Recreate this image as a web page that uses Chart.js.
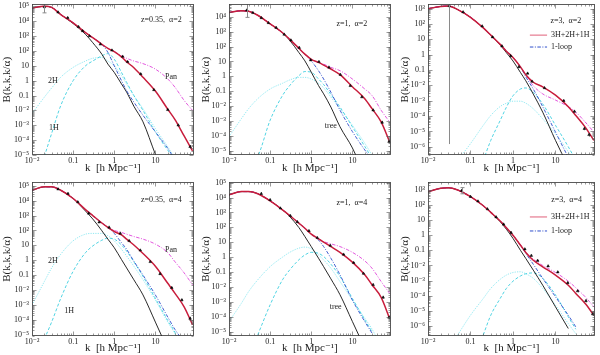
<!DOCTYPE html>
<html><head><meta charset="utf-8">
<script src="https://cdn.jsdelivr.net/npm/chart.js@4/dist/chart.umd.min.js"></script>
<style>
html,body{margin:0;padding:0;background:#fff;width:600px;height:355px;overflow:hidden;position:relative}
canvas{position:absolute}
</style></head><body>
<canvas id="c1"></canvas><canvas id="c2"></canvas><canvas id="c3"></canvas>
<canvas id="c4"></canvas><canvas id="c5"></canvas><canvas id="c6"></canvas>
<script>
// ---------- shared grid & tick labels ----------
const K = [0.01,0.02,0.03,0.05,0.1,0.2,0.3,0.5,0.7,1,1.5,2,3,5,10,20,30,50,80];
const xTickValues = [0.01,0.1,1,10];
const xTickLabels = ['10⁻²','0.1','1','10'];
const yTickValues = [1e-6,1e-5,1e-4,1e-3,1e-2,0.1,1,10,100,1e3,1e4,1e5];
const yTickLabels = ['10⁻⁶','10⁻⁵','10⁻⁴','10⁻³','10⁻²','0.1','1','10','10²','10³','10⁴','10⁵'];

// ---------- panel 1: z=0.35, alpha=2 ----------
const p1Total = [7.8e4,1.0e5,8.5e4,2.8e4,7.8e3,1.7e3,780,280,150,91,40,18.6,7.4,1.7,0.2,0.012,2.4e-3,1.9e-4,1.9e-5];
const p1Pan   = [7.8e4,1.0e5,8.5e4,2.8e4,7.8e3,1.7e3,780,280,150,91,47,32,21,14,6,1.3,0.36,0.047,0.01];
const p1Loop  = [7.8e4,1.0e5,8.5e4,2.8e4,7.8e3,1.7e3,780,280,80,10,1,0.21,0.036,4.7e-3,3.6e-4,2.8e-5,4.7e-6,5e-7,null];
const p1Tree  = [7.8e4,1.0e5,8.5e4,2.8e4,7.0e3,1.3e3,360,60,13,3.6,0.6,0.17,0.019,1.7e-3,1.1e-5,1e-7,null,null,null];
const p1H2    = [6e-3,0.078,0.32,1.7,7.8,21,32,36,21,10,2.2,0.6,0.1,0.013,6e-4,3.6e-5,6e-6,5e-7,null];
const p1H1    = [null,8e-6,2.8e-4,0.021,1,10,21,47,66,28,3.6,0.78,0.1,0.01,3.6e-4,2.1e-5,4.7e-6,5e-7,null];
const p1PtK   = [0.02,0.043,0.074,0.135,0.17,0.25,0.46,0.88,1.6,2.1,4.4,9.2,20,36,70];
const p1PtB   = [9.1e4,4.0e4,1.7e4,4.2e3,2.2e3,1.0e3,280,110,42,18.6,2.8,0.24,0.011,1e-3,3.6e-5];
const p1PtErr = [2.5,1.15,1.12,1.1,1.1,1.1,1.1,1.1,1.1,1.1,1.1,1.12,1.15,1.2,1.3];

// ---------- panel 2: z=1, alpha=2 ----------
const p2Total = [2.0e4,2.6e4,2.4e4,1.3e4,3.4e3,860,310,78,31,14,8.6,5.7,3.1,1.3,0.2,0.031,6.6e-3,8.5e-4,4e-5];
const p2Pan   = [2.0e4,2.6e4,2.4e4,1.3e4,3.4e3,860,310,78,31,14,8.6,6.6,4,2.4,0.66,0.14,0.051,5.2e-3,8.5e-4];
const p2Loop  = [2.0e4,2.6e4,2.4e4,1.3e4,3.4e3,860,310,78,31,11,2.4,0.66,0.085,5.2e-3,1.9e-4,1.1e-5,2.5e-6,null,null];
const p2Tree  = [2.0e4,2.6e4,2.4e4,1.3e4,3.4e3,860,265,40,11,1.9,0.24,0.066,8.5e-3,4e-4,1.5e-5,2e-7,null,null,null];
const p2H2    = [8.5e-5,1.4e-3,6.6e-3,0.031,0.14,0.34,0.57,0.85,0.85,0.66,0.34,0.17,0.04,6.6e-3,5.1e-4,3.1e-5,5e-6,null,null];
const p2H1    = [null,null,1e-6,4e-6,1.1e-3,0.051,0.24,1.1,2.1,1.9,0.66,0.28,0.06,8.5e-3,4e-4,1.9e-5,3e-6,null,null];
const p2PtK   = [0.027,0.038,0.061,0.091,0.14,0.22,0.32,0.51,0.97,1.54,2.7,5.1,8.9,17,32,53,78];
const p2PtB   = [2.8e4,1.9e4,8.6e3,4e3,1.9e3,660,270,86,12.3,9.5,4,1.3,0.23,0.04,5.2e-3,7.8e-4,4e-5];
const p2PtErr = [3,1.15,1.12,1.1,1.1,1.1,1.1,1.1,1.1,1.1,1.1,1.1,1.12,1.15,1.2,1.25,1.3];

// ---------- panel 3: z=3, alpha=2 ----------
const p3Total = [1000,1400,1500,870,275,56,19,4.7,1.7,0.65,0.16,0.049,0.016,8.1e-3,2.3e-3,4.1e-4,1.1e-4,1.9e-5,2.6e-6];
const p3Pan   = [1000,1400,1500,870,275,56,19,4.7,1.7,0.65,0.16,0.049,9.5e-3,2.8e-3,1.1e-3,4.1e-4,1.8e-4,4.1e-5,9e-6];
const p3Loop  = [1000,1400,1500,870,275,56,19,4.7,1.7,0.65,0.16,0.036,5.8e-3,4.1e-4,9e-6,2e-7,null,null,null];
const p3Tree  = [1000,1400,1500,870,275,56,19,4.3,1.35,0.39,0.069,0.02,2.7e-3,1.8e-4,2.6e-6,5e-8,null,null,null];
const p3H2    = [null,null,null,1.3e-7,1.6e-6,2.5e-5,1.1e-4,4.2e-4,6.9e-4,9.3e-4,9.3e-4,6.9e-4,3e-4,6.6e-5,7e-6,4.7e-7,8e-8,null,null];
const p3H1    = [null,null,null,null,null,1.3e-7,2.6e-6,5.2e-5,3.8e-4,2.1e-3,5.8e-3,6.8e-3,3.5e-3,6.2e-4,2.5e-5,1e-6,1.3e-7,null,null];
const p3PtK   = [0.0316,0.067,0.188,0.33,0.55,0.88,1.38,2.2,2.8,5.5,15.6,27.9,47.8,61.5];
const p3PtB   = [1500,600,72,14,3.6,0.83,0.16,0.06,0.018,6.8e-3,1e-3,2e-4,1.5e-5,6e-6];
const p3PtErr = [1e9,1.15,1.1,1.1,1.1,1.1,1.1,1.1,1.12,1.12,1.15,1.2,1.25,1.3];

// ---------- panel 4: z=0.35, alpha=4 ----------
const p4Total = [5e4,8.5e4,8.5e4,5e4,1.4e4,2.5e3,1e3,316,160,85,50,26,10.5,2.8,0.39,0.028,5.9e-3,7.3e-4,4.6e-5];
const p4Pan   = [5e4,8.5e4,8.5e4,5e4,1.4e4,2.5e3,1e3,316,160,100,73,56,39,26,12,3.2,0.78,0.14,0.022];
const p4Loop  = [5e4,8.5e4,8.5e4,5e4,1.4e4,2.5e3,1e3,316,160,63,15,5.4,0.85,0.1,4.6e-3,1.5e-4,2.2e-5,3e-6,null];
const p4Tree  = [5e4,8.5e4,8.5e4,5e4,1.4e4,2e3,590,95,26,6.9,1.1,0.3,0.048,4.6e-3,6.9e-5,1e-6,null,null,null];
const p4H2    = [9.5e-4,0.037,0.3,2.5,20,56,63,63,44,20,5.4,1.9,0.39,0.048,2.1e-3,6.9e-5,1.1e-5,5e-7,null];
const p4H1    = [null,5e-6,6.9e-5,2.7e-3,0.18,3.2,9,22,30,26,10.5,4.1,0.78,0.081,2.7e-3,8.9e-5,1.4e-5,5e-7,null];
const p4PtK   = [0.043,0.075,0.13,0.24,0.43,0.75,1.4,2.3,4.3,7.5,13,25,44,70];
const p4PtB   = [5.9e4,3e4,8.1e3,1.4e3,355,160,63,20,4.6,0.78,0.12,0.014,2.1e-3,1.2e-4];
const p4PtErr = [1.12,1.1,1.1,1.1,1.1,1.1,1.1,1.1,1.1,1.1,1.12,1.15,1.2,1.3];

// ---------- panel 5: z=1, alpha=4 ----------
const p5Total = [1.5e4,2.5e4,2.5e4,1.8e4,6e3,1.5e3,620,190,87,35,17,10,5.1,2.1,0.46,0.065,0.014,2e-3,8e-5];
const p5Pan   = [1.5e4,2.5e4,2.5e4,1.8e4,6e3,1.5e3,620,190,87,35,17,11,7.8,5.1,2.1,0.56,0.18,0.023,3.8e-3];
const p5Loop  = [1.5e4,2.5e4,2.5e4,1.8e4,6e3,1.5e3,620,190,87,35,14,5.1,0.85,0.065,1.3e-3,4.8e-5,8e-6,null,null];
const p5Tree  = [1.5e4,2.5e4,2.5e4,1.8e4,6e3,1.5e3,525,97,24,5.1,0.85,0.23,0.035,3e-3,4.8e-5,8e-7,null,null,null];
const p5H2    = [4.8e-5,8e-4,4.9e-3,0.03,0.23,1,2.1,4,4.7,3.6,1.4,0.66,0.18,0.023,1.3e-3,8e-5,1.5e-5,1e-6,null];
const p5H1    = [null,null,null,6e-6,6.3e-4,0.03,0.14,0.66,1.4,2.1,1.8,1.1,0.34,0.05,1.7e-3,6.2e-5,1e-5,null,null];
const p5PtK   = [0.061,0.1,0.178,0.31,0.46,0.88,1.4,2.9,6.1,10.7,18.6,32,56,78];
const p5PtB   = [1.8e4,6.9e3,1.9e3,600,230,58,20,6,1.5,0.42,0.08,0.014,2e-3,9e-5];
const p5PtErr = [1.2,1.1,1.1,1.1,1.1,1.1,1.1,1.1,1.1,1.1,1.12,1.15,1.2,1.3];

// ---------- panel 6: z=3, alpha=4 ----------
const p6Total = [776,1300,1400,1000,360,91,33,8.8,3.2,1,0.22,0.073,0.022,8.1e-3,2.3e-3,4.9e-4,1.4e-4,3e-5,5e-6];
const p6Pan   = [776,1300,1400,1000,360,91,33,8.8,3.2,1,0.22,0.073,0.026,0.01,3.4e-3,9e-4,3.3e-4,8.3e-5,1.8e-5];
const p6Loop  = [776,1300,1400,1000,360,91,33,8.8,3.2,1,0.22,0.063,0.012,1.4e-3,8.3e-5,5e-6,8.5e-7,null,null];
const p6Tree  = [776,1300,1400,1000,360,91,33,7.9,2.5,0.62,0.1,0.029,4.9e-3,4.9e-4,1.8e-5,6.6e-7,null,null,null];
const p6H2    = [null,null,null,2.5e-7,5e-6,6.5e-5,3e-4,1.2e-3,2.3e-3,3.4e-3,3.8e-3,2.8e-3,1.4e-3,3e-4,2.3e-5,1.4e-6,3e-7,null,null];
const p6H1    = [null,null,null,null,null,2.5e-7,5e-6,6.5e-5,3e-4,9e-4,2e-3,2.8e-3,3.2e-3,1.4e-3,1.1e-4,3.9e-6,5.9e-7,null,null];
const p6PtK   = [0.062,0.1,0.15,0.25,0.4,0.6,0.9,1.9,2.7,3.8,6.7,11.3,19.4,33,52,75];
const p6PtB   = [900,360,180,55,16,5.3,1.5,0.12,0.045,0.021,9e-3,3.6e-3,7e-4,2e-4,4.5e-5,6e-6];
const p6PtErr = [1.6,1.1,1.1,1.1,1.1,1.1,1.1,1.1,1.1,1.1,1.12,1.12,1.15,1.2,1.25,1.3];

// ---------- styles ----------
const FONT = "'Liberation Serif','DejaVu Serif','Times New Roman',serif";
Chart.defaults.font.family = FONT;
Chart.defaults.color = '#222';
const STYLE = {
  total:{color:'#c81d3c', width:1.5, dash:[]},
  pan:  {color:'#e045da', width:0.9, dash:[3.5,1.5,1,1.5]},
  loop: {color:'#2f4fcc', width:0.9, dash:[3.5,1.5,1,1.5]},
  tree: {color:'#111111', width:0.9, dash:[]},
  h1:   {color:'#3ccfe0', width:0.9, dash:[3,2]},
  h2:   {color:'#86e6f0', width:0.9, dash:[1.2,1.2]}
};

const PANELS = [
  {id:'c1', left:0,   top:0,   w:198, h:175, yw:32, ytp:1, pt:3, pr:2, xh:20, ymin:1e-5,  ymax:1.35e5,
   s:{total:p1Total,pan:p1Pan,loop:p1Loop,tree:p1Tree,h2:p1H2,h1:p1H1}, pk:p1PtK, pb:p1PtB, pe:p1PtErr,
   notes:[{t:'z=0.35,  α=2',fx:0.80,fy:0.10},{t:'Pan',fx:0.86,fy:0.48},{t:'2H',fx:0.13,fy:0.51},{t:'1H',fx:0.135,fy:0.82}]},
  {id:'c2', left:196, top:0,   w:199, h:175, yw:33, ytp:4, pt:3, pr:2, xh:20, ymin:5e-6,  ymax:7e4,
   s:{total:p2Total,pan:p2Pan,loop:p2Loop,tree:p2Tree,h2:p2H2,h1:p2H1}, pk:p2PtK, pb:p2PtB, pe:p2PtErr,
   notes:[{t:'z=1,  α=2',fx:0.76,fy:0.13},{t:'tree',fx:0.63,fy:0.81}]},
  {id:'c3', left:395, top:0,   w:205, h:175, yw:33, ytp:4, pt:3, pr:5, xh:20, ymin:2.9e-7, ymax:1.9e3,
   s:{total:p3Total,pan:p3Pan,loop:p3Loop,tree:p3Tree,h2:p3H2,h1:p3H1}, pk:p3PtK, pb:p3PtB, pe:p3PtErr,
   notes:[{t:'z=3,  α=2',fx:0.826,fy:0.11}], legend:{fy1:0.204, fy2:0.283}},
  {id:'c4', left:0,   top:177, w:198, h:178, yw:32, ytp:1, pt:5, pr:2, xh:19, ymin:8e-6,  ymax:1.8e5,
   s:{total:p4Total,pan:p4Pan,loop:p4Loop,tree:p4Tree,h2:p4H2,h1:p4H1}, pk:p4PtK, pb:p4PtB, pe:p4PtErr,
   notes:[{t:'z=0.35,  α=4',fx:0.80,fy:0.117},{t:'Pan',fx:0.86,fy:0.44},{t:'2H',fx:0.13,fy:0.51},{t:'1H',fx:0.23,fy:0.84}]},
  {id:'c5', left:196, top:177, w:199, h:178, yw:33, ytp:4, pt:5, pr:2, xh:19, ymin:5.1e-6, ymax:1.1e5,
   s:{total:p5Total,pan:p5Pan,loop:p5Loop,tree:p5Tree,h2:p5H2,h1:p5H1}, pk:p5PtK, pb:p5PtB, pe:p5PtErr,
   notes:[{t:'z=1,  α=4',fx:0.76,fy:0.136},{t:'tree',fx:0.66,fy:0.81}]},
  {id:'c6', left:395, top:177, w:205, h:178, yw:33, ytp:4, pt:5, pr:5, xh:19, ymin:2.1e-7, ymax:3.4e3,
   s:{total:p6Total,pan:p6Pan,loop:p6Loop,tree:p6Tree,h2:p6H2,h1:p6H1}, pk:p6PtK, pb:p6PtB, pe:p6PtErr,
   notes:[{t:'z=3,  α=4',fx:0.83,fy:0.117}], legend:{fy1:0.227, fy2:0.318}}
];

function sameVal(a,b){ return Math.abs(Math.log10(a)-Math.log10(b)) < 1e-6; }

function panelPlugin(P){
  return {
    id:'panelDeco_'+P.id,
    afterDatasetsDraw(chart){
      const ctx = chart.ctx, a = chart.chartArea, xs = chart.scales.x, ys = chart.scales.y;
      // error bars
      ctx.save();
      ctx.beginPath(); ctx.rect(a.left, a.top, a.right-a.left, a.bottom-a.top); ctx.clip();
      chart.data.datasets.forEach(ds=>{
        if(!ds.errFactor) return;
        ds.data.forEach((d,j)=>{
          const f = ds.errFactor[j];
          const px = Math.round(xs.getPixelForValue(d.x))+0.5;
          const y1 = ys.getPixelForValue(d.y/f), y2 = ys.getPixelForValue(d.y*f);
          ctx.strokeStyle = f>1.5 ? '#8a8a8a' : '#222';
          ctx.lineWidth = f>1.5 ? 1 : 0.7;
          ctx.beginPath(); ctx.moveTo(px,y1); ctx.lineTo(px,y2);
          if(f>1.5 && f<100){ ctx.moveTo(px-2,y1); ctx.lineTo(px+2,y1); ctx.moveTo(px-2,y2); ctx.lineTo(px+2,y2); }
          ctx.stroke();
        });
      });
      ctx.restore();
      // frame and inward ticks
      ctx.save();
      ctx.strokeStyle = '#333'; ctx.lineWidth = 0.8;
      const L=Math.round(a.left)+0.5, R=Math.round(a.right)-0.5, T=Math.round(a.top)+0.5, B=Math.round(a.bottom)-0.5;
      ctx.strokeRect(L,T,R-L,B-T);
      ctx.strokeStyle = '#555'; ctx.lineWidth = 0.6;
      ctx.beginPath();
      for(let e=-3;e<=2;e++) for(let m=1;m<=9;m++){
        const v=m*Math.pow(10,e); if(v<xs.min||v>xs.max) continue;
        const px=Math.round(xs.getPixelForValue(v))+0.5, len=(m===1)?4:2;
        ctx.moveTo(px,B); ctx.lineTo(px,B-len); ctx.moveTo(px,T); ctx.lineTo(px,T+len);
      }
      for(let e=-8;e<=6;e++) for(let m=1;m<=9;m++){
        const v=m*Math.pow(10,e); if(v<ys.min||v>ys.max) continue;
        const py=Math.round(ys.getPixelForValue(v))+0.5, len=(m===1)?4:2;
        ctx.moveTo(L,py); ctx.lineTo(L+len,py); ctx.moveTo(R,py); ctx.lineTo(R-len,py);
      }
      ctx.stroke();
      ctx.restore();
      // text notes
      ctx.save();
      ctx.fillStyle = '#222'; ctx.font = '8px '+FONT; ctx.textBaseline='middle'; ctx.textAlign='center';
      const W=a.right-a.left, H=a.bottom-a.top;
      P.notes.forEach(n=>ctx.fillText(n.t, a.left+n.fx*W, a.top+n.fy*H));
      if(P.legend){
        const x0=a.left+0.61*W, x1=a.left+0.713*W, xt=a.left+0.737*W;
        const y1=a.top+P.legend.fy1*H, y2=a.top+P.legend.fy2*H;
        ctx.lineWidth=1; ctx.strokeStyle='#e0607a'; ctx.setLineDash([]);
        ctx.beginPath(); ctx.moveTo(x0,y1); ctx.lineTo(x1,y1); ctx.stroke();
        ctx.strokeStyle=STYLE.loop.color; ctx.setLineDash(STYLE.loop.dash);
        ctx.beginPath(); ctx.moveTo(x0,y2); ctx.lineTo(x1,y2); ctx.stroke();
        ctx.setLineDash([]);
        ctx.textAlign='left';
        ctx.fillText('3H+2H+1H', xt, y1);
        ctx.fillText('1-loop', xt, y2);
      }
      ctx.restore();
    }
  };
}

function makeChart(P){
  const cv = document.getElementById(P.id);
  cv.width = P.w; cv.height = P.h;
  cv.style.left = P.left+'px'; cv.style.top = P.top+'px';
  cv.style.width = P.w+'px'; cv.style.height = P.h+'px';
  const toXY = arr => K.map((k,i)=>({x:k, y:arr[i]}));
  const lineDs = key => ({
    label:key, data:toXY(P.s[key]), borderColor:STYLE[key].color, borderWidth:STYLE[key].width,
    borderDash:STYLE[key].dash, pointRadius:0, pointHoverRadius:0, fill:false,
    cubicInterpolationMode:'monotone', clip:0
  });
  const pts = {
    label:'N-body', data:P.pk.map((k,i)=>({x:k,y:P.pb[i]})), showLine:false,
    pointStyle:'triangle', pointRadius:1.6, pointBackgroundColor:'#000', pointBorderColor:'#000',
    pointBorderWidth:0.4, errFactor:P.pe, clip:0
  };
  new Chart(cv, {
    type:'line',
    data:{ datasets:[pts, lineDs('total'), lineDs('pan'), lineDs('loop'), lineDs('tree'), lineDs('h1'), lineDs('h2')] },
    options:{
      responsive:false, animation:false, devicePixelRatio:1,
      layout:{ padding:{ left:0, top:P.pt, right:P.pr, bottom:0 } },
      plugins:{ legend:{display:false}, tooltip:{enabled:false} },
      scales:{
        x:{
          type:'logarithmic', position:'bottom', min:0.01, max:85, bounds:'data',
          grid:{display:false, drawTicks:false}, border:{display:false},
          afterBuildTicks: s => { s.ticks = xTickValues.map(v=>({value:v})); },
          afterFit: s => { s.height = P.xh; s.paddingLeft = 0; s.paddingRight = 0; },
          ticks:{ autoSkip:false, maxRotation:0, minRotation:0, padding:1, font:{size:8}, color:'#222',
            callback:(v)=>{ const i=xTickValues.findIndex(t=>sameVal(t,v)); return i>=0?xTickLabels[i]:''; } },
          title:{ display:true, text:'k  [h Mpc⁻¹]', font:{size:11}, color:'#222', padding:{top:0,bottom:0} }
        },
        y:{
          type:'logarithmic', position:'left', min:P.ymin, max:P.ymax, bounds:'data',
          grid:{display:false, drawTicks:false}, border:{display:false},
          afterBuildTicks: s => { s.ticks = yTickValues.filter(v=>v>=P.ymin*0.999 && v<=P.ymax*1.001).map(v=>({value:v})); },
          afterFit: s => { s.width = P.yw; s.paddingTop = 0; s.paddingBottom = 0; },
          ticks:{ autoSkip:false, padding:3, font:{size:8}, color:'#222',
            callback:(v)=>{ const i=yTickValues.findIndex(t=>sameVal(t,v)); return i>=0?yTickLabels[i]:''; } },
          title:{ display:true, text:'B(k,k,k/α)', font:{size:11}, color:'#222', padding:{top:P.ytp,bottom:0} }
        }
      }
    },
    plugins:[panelPlugin(P)]
  });
}
PANELS.forEach(makeChart);
</script>
</body></html>
